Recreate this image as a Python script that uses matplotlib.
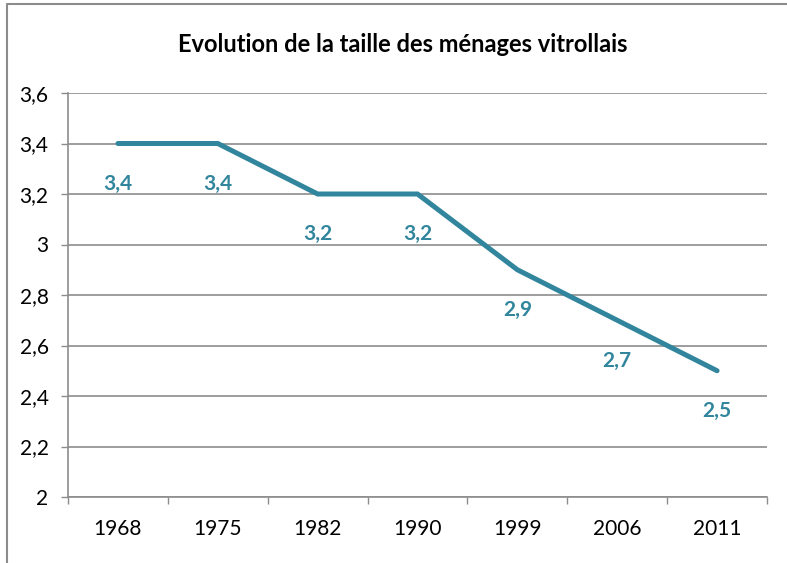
import matplotlib.pyplot as plt
from matplotlib.lines import Line2D

years = ["1968", "1975", "1982", "1990", "1999", "2006", "2011"]
taille = [3.4, 3.4, 3.2, 3.2, 2.9, 2.7, 2.5]
y_ticks = [2.0, 2.2, 2.4, 2.6, 2.8, 3.0, 3.2, 3.4, 3.6]
y_labels = ["2", "2,2", "2,4", "2,6", "2,8", "3", "3,2", "3,4", "3,6"]

line_color = "#31859C"
grid_color = "#8C8C8C"
plt.rcParams['font.family'] = ['Lato', 'DejaVu Sans']

fig = plt.figure(figsize=(7.87, 5.63), dpi=100)
fig.patch.set_facecolor('white')
ax = fig.add_axes([68 / 787, 1 - 497 / 563, (767 - 68) / 787, (497 - 93) / 563])

x = list(range(len(years)))
ax.plot(x, taille, color=line_color, linewidth=3.6, solid_capstyle='round', solid_joinstyle='miter')

# data labels under each point
for xi, v in zip(x, taille):
    ax.annotate(f"{v:.1f}".replace(".", ","), (xi, v), xytext=(0, -29),
                textcoords='offset points', ha='center', va='center',
                fontsize=15, fontweight='bold', color=line_color)

ax.set_xlim(-0.5, len(years) - 0.5)
ax.set_ylim(2.0, 3.6)
ax.set_yticks(y_ticks)
ax.set_yticklabels(y_labels)
ax.set_xticks(x)
ax.set_xticklabels(years)
ax.set_xticks([i - 0.5 for i in range(len(years) + 1)], minor=True)

ax.tick_params(axis='x', which='major', length=0, pad=16, labelsize=15)
ax.tick_params(axis='x', which='minor', length=5, width=1, color=grid_color, direction='out')
ax.tick_params(axis='y', length=5, width=1, color=grid_color, pad=9, labelsize=15)

ax.grid(axis='y', color=grid_color, linewidth=1.2)
ax.set_axisbelow(True)
for side in ['top', 'right']:
    ax.spines[side].set_visible(False)
for side in ['left', 'bottom']:
    ax.spines[side].set_color(grid_color)
    ax.spines[side].set_linewidth(1.2)

fig.text(403 / 787, 1 - 45 / 563, "Evolution de la taille des ménages vitrollais",
         ha='center', va='center', fontsize=17, fontweight='bold')

# outer chart border (left and top)
fig.add_artist(Line2D([7 / 787, 7 / 787, 1], [0, 1 - 4 / 563, 1 - 4 / 563],
                      transform=fig.transFigure, color='#8C8C8C', linewidth=1.5))

plt.savefig('out.png', dpi=100)
plt.close()
